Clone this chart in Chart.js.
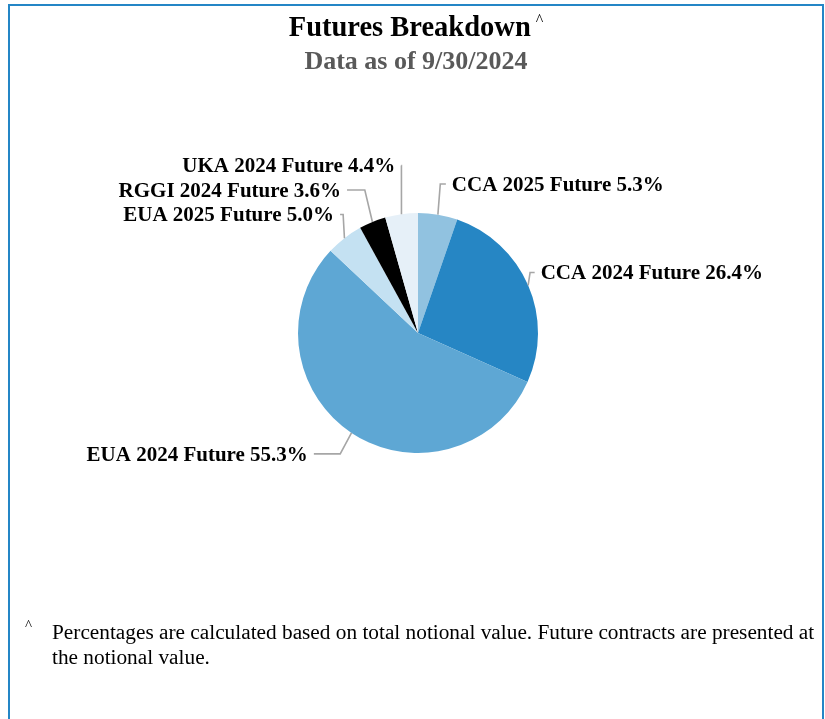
<!DOCTYPE html>
<html>
<head>
<meta charset="utf-8">
<script src="https://cdn.jsdelivr.net/npm/chart.js@4.4.1/dist/chart.umd.min.js"></script>
<style>
  html, body { margin: 0; padding: 0; background: #fff; }
  body { width: 825px; height: 719px; position: relative; overflow: hidden; font-family: "Liberation Serif", "Times New Roman", serif; }
  .frame { position: absolute; left: 8px; top: 4px; width: 816px; height: 740px; box-sizing: border-box; border: 2px solid #2486c6; border-bottom: none; }
  .title { position: absolute; left: 8px; width: 816px; top: 13px; text-align: center; font-weight: bold; font-size: 28.5px; line-height: 28px; color: #000; white-space: nowrap; }
  .title .mark { font-size: 16px; font-weight: normal; position: relative; top: -11px; margin-left: 5px; }
  .subtitle { position: absolute; left: 8px; width: 816px; top: 48px; text-align: center; font-weight: bold; font-size: 26px; line-height: 26px; color: #595959; white-space: nowrap; }
  .note-mark { position: absolute; left: 25px; top: 617px; font-size: 15px; color: #000; }
  .note { position: absolute; left: 52px; top: 620px; font-size: 21.3px; line-height: 25px; color: #000; white-space: nowrap; }
  canvas { position: absolute; left: 0; top: 0; }
</style>
</head>
<body>
<div class="frame"></div>
<canvas id="futures-chart" width="825" height="719"></canvas>
<div class="title">Futures Breakdown<span class="mark">^</span></div>
<div class="subtitle">Data as of 9/30/2024</div>
<div class="note-mark">^</div>
<div class="note">Percentages are calculated based on total notional value. Future contracts are presented at<br>the notional value.</div>
<script>
// Slices, clockwise from 12 o'clock
const categories = ['CCA 2025 Future', 'CCA 2024 Future', 'EUA 2024 Future', 'EUA 2025 Future', 'RGGI 2024 Future', 'UKA 2024 Future'];
const shares = [5.3, 26.4, 55.3, 5.0, 3.6, 4.4];
const sliceColors = ['#91c2e0', '#2686c4', '#5ea7d4', '#c4e1f2', '#000000', '#e6f0f8'];

// label fine tuning (like per-point dataLabel x/y), in px
const labelNudgeX = [3, -21, -21, 14, -14, 4];
const labelNudgeY = [-1, -1, -4, 0, 0, 0];

// Draws outside labels with connector lines, pushed apart so they don't overlap
const pieLabels = {
  id: 'pieLabels',
  afterDatasetsDraw(chart) {
    const ctx = chart.ctx;
    const meta = chart.getDatasetMeta(0);
    const distance = 30;
    const spacing = 24.5;

    const items = meta.data.map((arc, i) => {
      const p = arc.getProps(['x', 'y', 'startAngle', 'endAngle', 'outerRadius'], true);
      const mid = (p.startAngle + p.endAngle) / 2;
      const R = p.outerRadius + distance;
      return {
        i: i,
        left: Math.cos(mid) < 0,
        ex: p.x + Math.cos(mid) * p.outerRadius,
        ey: p.y + Math.sin(mid) * p.outerRadius,
        x: p.x + Math.cos(mid) * R,
        y: p.y + Math.sin(mid) * R
      };
    });

    // left side: push up from the bottom
    const leftSide = items.filter(d => d.left).sort((a, b) => b.y - a.y);
    for (let k = 1; k < leftSide.length; k++) {
      leftSide[k].y = Math.min(leftSide[k].y, leftSide[k - 1].y - spacing);
    }
    // right side: push down from the top
    const rightSide = items.filter(d => !d.left).sort((a, b) => a.y - b.y);
    for (let k = 1; k < rightSide.length; k++) {
      rightSide[k].y = Math.max(rightSide[k].y, rightSide[k - 1].y + spacing);
    }

    ctx.save();
    ctx.font = 'bold 21px "Liberation Serif", "Times New Roman", serif';
    ctx.textBaseline = 'alphabetic';
    items.forEach(d => {
      const ax = d.x + labelNudgeX[d.i];
      const ay = d.y + labelNudgeY[d.i];
      const bx = d.ex + (ax - d.ex) * 0.3;

      ctx.strokeStyle = '#a6a6a6';
      ctx.lineWidth = 1.6;
      ctx.beginPath();
      ctx.moveTo(d.ex, d.ey);
      ctx.lineTo(bx, ay);
      ctx.lineTo(ax, ay);
      ctx.stroke();

      const text = categories[d.i] + ' ' + shares[d.i].toFixed(1) + '%';
      ctx.fillStyle = '#000';
      ctx.textAlign = d.left ? 'right' : 'left';
      ctx.fillText(text, d.left ? ax - 6 : ax + 6, ay + 7);
    });
    ctx.restore();
  }
};

new Chart(document.getElementById('futures-chart'), {
  type: 'pie',
  data: {
    labels: categories,
    datasets: [{
      data: shares,
      backgroundColor: sliceColors,
      borderWidth: 0
    }]
  },
  options: {
    responsive: false,
    animation: false,
    layout: { padding: { left: 298, right: 287, top: 213, bottom: 266 } },
    plugins: {
      legend: { display: false },
      tooltip: { enabled: false }
    }
  },
  plugins: [pieLabels]
});
</script>
</body>
</html>
